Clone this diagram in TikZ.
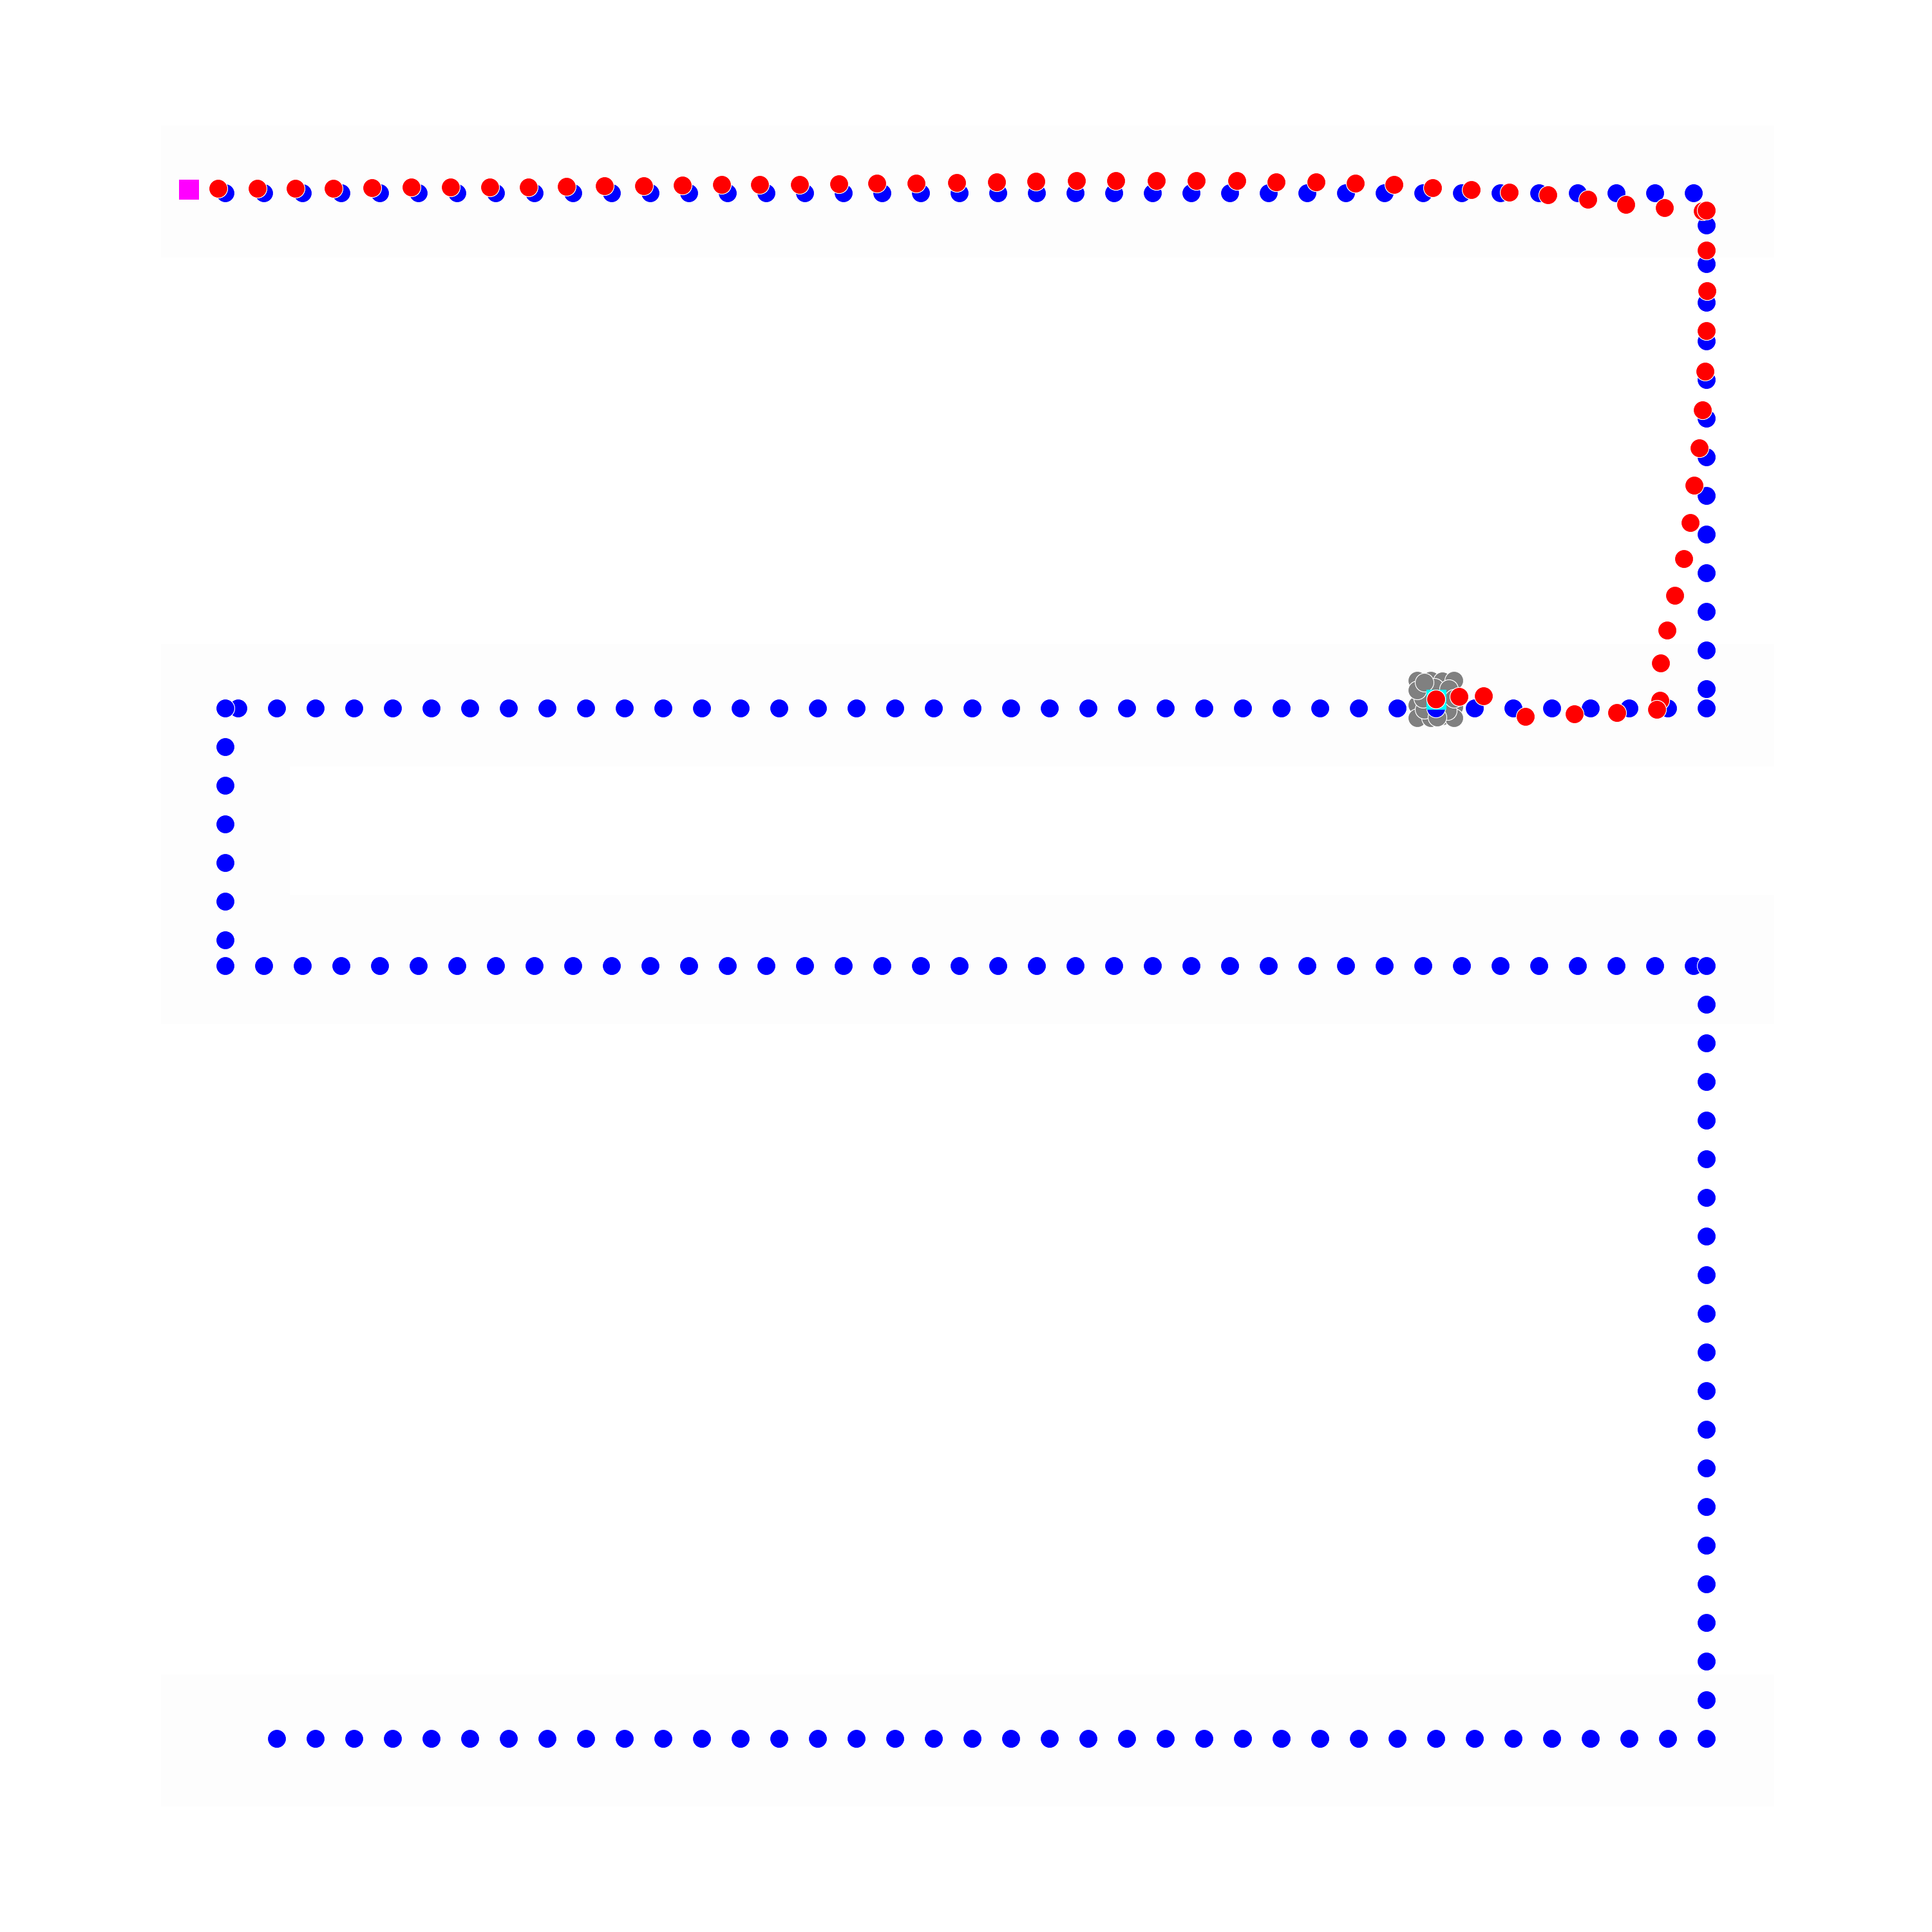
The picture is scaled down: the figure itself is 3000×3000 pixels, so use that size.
\documentclass[tikz,border=0pt]{standalone}
\usepackage{tikz}
\usetikzlibrary{calc}
\definecolor{bandgray}{RGB}{253,253,253}
\definecolor{dotblue}{RGB}{0,0,255}
\definecolor{dotred}{RGB}{255,0,0}
\definecolor{dotgray}{RGB}{128,128,128}
\definecolor{startpink}{RGB}{255,0,255}
\definecolor{goalcyan}{RGB}{0,255,255}
\tikzset{every picture/.style={line width=0.3pt}}
\tikzset{
  band/.style={fill=bandgray, draw=none},
  bluedot/.style={fill=dotblue, draw=white},
  reddot/.style={fill=dotred, draw=white},
  graydot/.style={fill=dotgray, draw=white},
  startmark/.style={fill=startpink, draw=none},
  goalmark/.style={fill=goalcyan, draw=none},
}

\begin{document}
\begin{tikzpicture}[x=0.01cm, y=-0.01cm]
    \useasboundingbox (0,0) rectangle (3000,3000);
    % 背景
    \fill[band] (250,195) rectangle (2755,400);
    \fill[band] (250,1000) rectangle (2755,1190);
    \fill[band] (250,1190) rectangle (450,1390);
    \fill[band] (250,1390) rectangle (2755,1590);
    \fill[band] (250,2600) rectangle (2755,2805);
    % 灰色点
    \foreach \p in {(2201,1057),(2222,1057),(2240,1058),(2258,1057),
                    (2205,1078),(2218,1072),(2236,1075),(2255,1080),
                    (2201,1095),(2215,1090),(2245,1092),(2258,1098),
                    (2201,1115),(2222,1115),(2240,1112),(2258,1115),
                    (2212,1102),(2230,1098),(2248,1104),(2228,1068),
                    (2210,1085),(2250,1070),(2258,1085),(2201,1072),
                    (2232,1114),(2212,1060)}
        \draw[graydot] \p circle[radius=0.145cm];
    % 参考路径
    \foreach \k in {0,...,38}
        \draw[bluedot] (350+60*\k,300) circle[radius=0.145cm];
    \foreach \k in {0,...,12}
        \draw[bluedot] (2650,350+60*\k) circle[radius=0.145cm];
    \foreach \k in {0,...,38}
        \draw[bluedot] (370+60*\k,1100) circle[radius=0.145cm];
    \draw[bluedot] (350,1100) circle[radius=0.145cm];
    \foreach \k in {0,...,5}
        \draw[bluedot] (350,1160+60*\k) circle[radius=0.145cm];
    \foreach \k in {0,...,38}
        \draw[bluedot] (350+60*\k,1500) circle[radius=0.145cm];
    \draw[bluedot] (2650,1500) circle[radius=0.145cm];
    \foreach \k in {0,...,18}
        \draw[bluedot] (2650,1560+60*\k) circle[radius=0.145cm];
    \foreach \k in {0,...,37}
        \draw[bluedot] (430+60*\k,2700) circle[radius=0.145cm];
    % 起点和终点
    \fill[startmark] (278,279) rectangle (309,310);
    \fill[goalmark] (2215,1071) rectangle (2246,1102);
    % 实际轨迹
    \foreach \p in {(339,293),(400,293),(459,293),(518,293),(578,292),(639,291),
                    (700,291),(761,291),(821,291),(880,290),(939,289),(1000,289),
                    (1060,288),(1121,287),(1180,287),(1242,287),(1303,286),(1362,285),
                    (1423,285),(1486,284),(1548,283),(1609,282),(1672,281),(1733,281),
                    (1796,281),(1858,281),(1921,281),(1982,283),(2044,283),(2105,285),
                    (2165,287),(2225,292),(2285,295),(2344,299),(2404,303),(2466,310),
                    (2525,318),(2585,323),(2644,328),(2650,327),
                    (2650,389),(2651,452),(2650,514),(2648,577),(2644,637),(2639,696),
                    (2631,754),(2625,812),(2615,868),(2601,925),(2589,979),(2579,1030),
                    (2578,1088),(2573,1102),(2511,1107),(2445,1109),(2369,1113),
                    (2304,1081),(2266,1082),(2230,1086)}
        \draw[reddot] \p circle[radius=0.145cm];
\end{tikzpicture}
\end{document}
